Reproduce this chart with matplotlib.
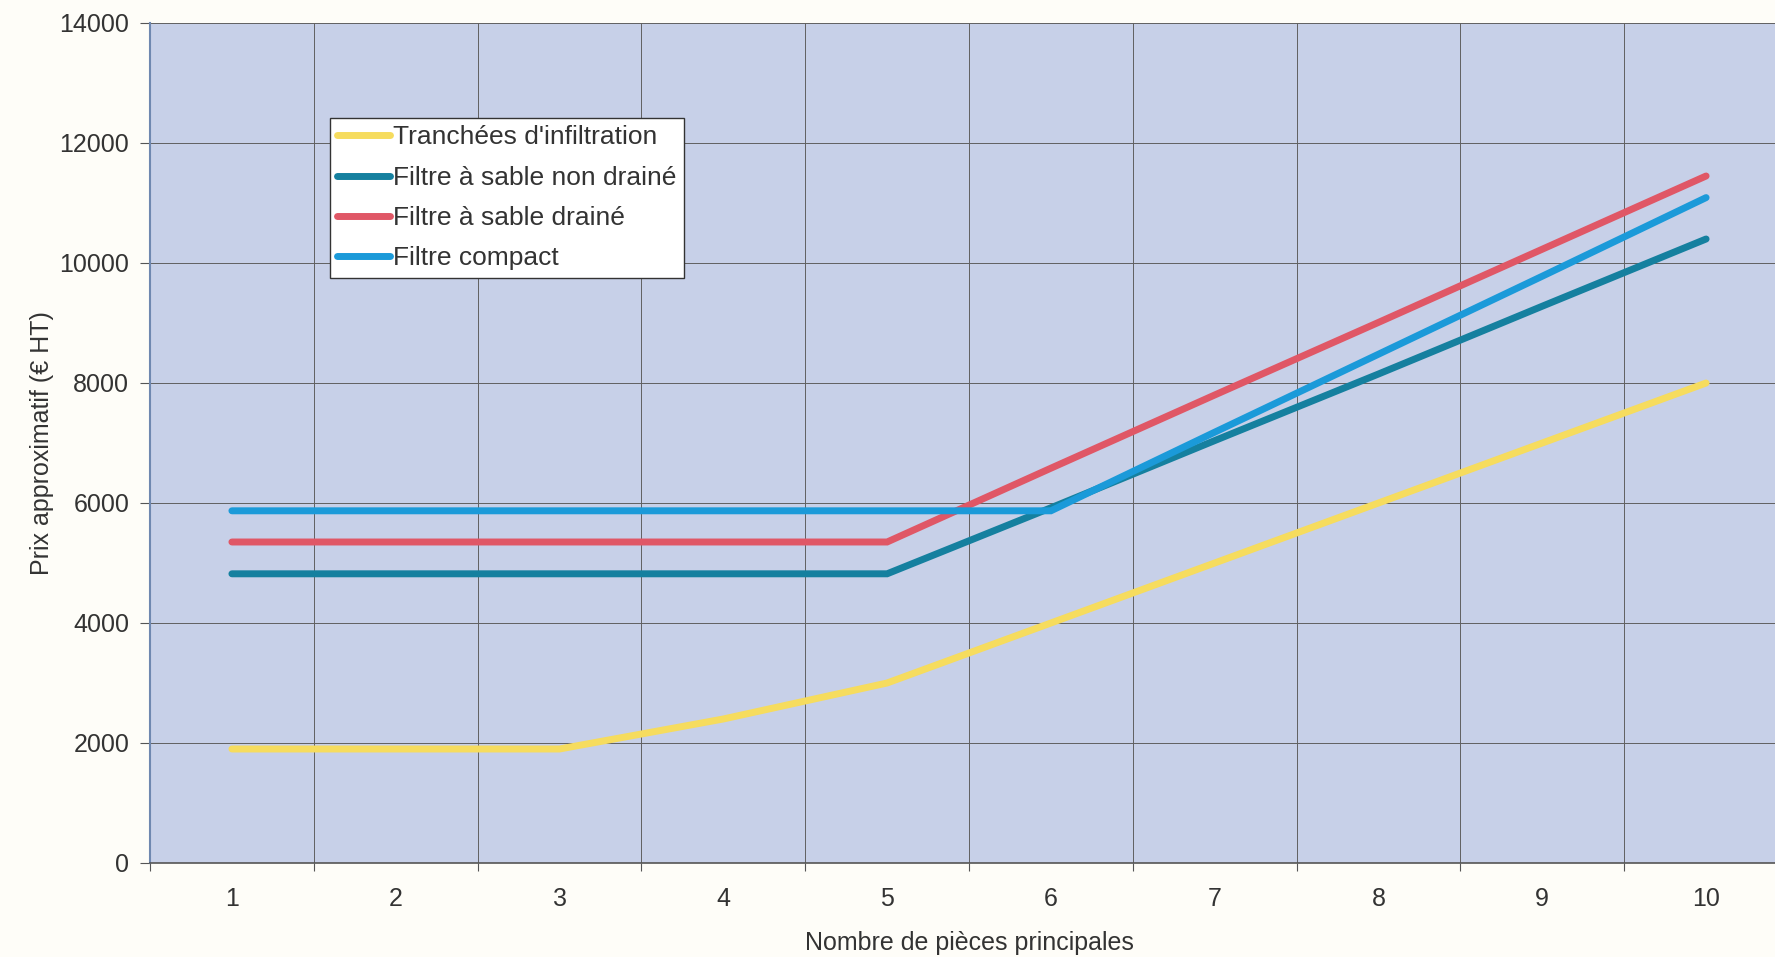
"""Prix approximatif des filières d'assainissement selon le nombre de pièces"""

import matplotlib
matplotlib.use('Agg')
import matplotlib.pyplot as plt
import numpy as np

# Données
pieces = [1, 2, 3, 4, 5, 6, 7, 8, 9, 10]
tranchees = [1900, 1900, 1900, 2400, 3000, 4000, 5000, 6000, 7000, 8000]
filtre_non_draine = [4820, 4820, 4820, 4820, 4820, 5920, 7040, 8150, 9280, 10400]
filtre_draine = [5350, 5350, 5350, 5350, 5350, 6580, 7800, 9010, 10230, 11450]
filtre_compact = [5870, 5870, 5870, 5870, 5870, 5870, 7180, 8480, 9780, 11090]

series = [
    ("Tranchées d'infiltration", tranchees, '#f6dc5e'),
    ("Filtre à sable non drainé", filtre_non_draine, '#15809f'),
    ("Filtre à sable drainé", filtre_draine, '#e05766'),
    ("Filtre compact", filtre_compact, '#1b9ad9'),
]


def main():
    plt.rcParams['font.family'] = ['Liberation Sans', 'DejaVu Sans']

    fig = plt.figure(figsize=(17.75, 9.57), dpi=100, facecolor='#fefdf8')
    ax = fig.add_axes([150 / 1775, 94 / 957, 1638 / 1775, 840 / 957])
    ax.set_facecolor('#c7d0e8')

    for label, values, color in series:
        ax.plot(pieces, values, color=color, linewidth=5.0, label=label,
                solid_capstyle='round', solid_joinstyle='miter', zorder=3)

    ax.set_xlim(0.5, 10.5)
    ax.set_ylim(0, 14000)

    # category axis: ticks and grid between categories, labels at centres
    ax.set_xticks(np.arange(0.5, 11, 1))
    ax.set_xticklabels([])
    ax.set_xticks(pieces, minor=True)
    ax.set_xticklabels([str(p) for p in pieces], minor=True)
    ax.tick_params(axis='x', which='minor', length=0, pad=17,
                   labelsize=18, labelcolor='#333333')
    ax.tick_params(axis='x', which='major', length=6, color='#555555')

    ax.set_yticks(np.arange(0, 14001, 2000))
    ax.tick_params(axis='y', length=7, color='#555555', pad=8,
                   labelsize=18, labelcolor='#333333')

    ax.grid(True, which='major', color='#606060', linewidth=0.7, zorder=1)
    ax.set_axisbelow(True)

    for side in ['top', 'right']:
        ax.spines[side].set_visible(False)
    ax.spines['left'].set_color('#6f88b0')
    ax.spines['left'].set_linewidth(1.5)
    ax.spines['bottom'].set_color('#555555')
    ax.spines['bottom'].set_linewidth(1.2)

    ax.set_xlabel('Nombre de pièces principales', fontsize=18,
                  color='#333333', labelpad=15)
    ax.set_ylabel('Prix approximatif (€ HT)', fontsize=18,
                  color='#333333', labelpad=4)

    leg = ax.legend(loc='upper left', bbox_to_anchor=(330 / 1775, 1 - 118 / 957),
                    bbox_transform=fig.transFigure, fontsize=19,
                    frameon=True, fancybox=False, framealpha=1,
                    edgecolor='#333333', facecolor='white',
                    handlelength=2.0, handletextpad=0.12, labelspacing=0.62,
                    borderpad=0.28, borderaxespad=0)
    leg.get_frame().set_linewidth(1.0)
    for text in leg.get_texts():
        text.set_color('#333333')

    fig.savefig('out.png', dpi=100, facecolor=fig.get_facecolor())


if __name__ == '__main__':
    main()
